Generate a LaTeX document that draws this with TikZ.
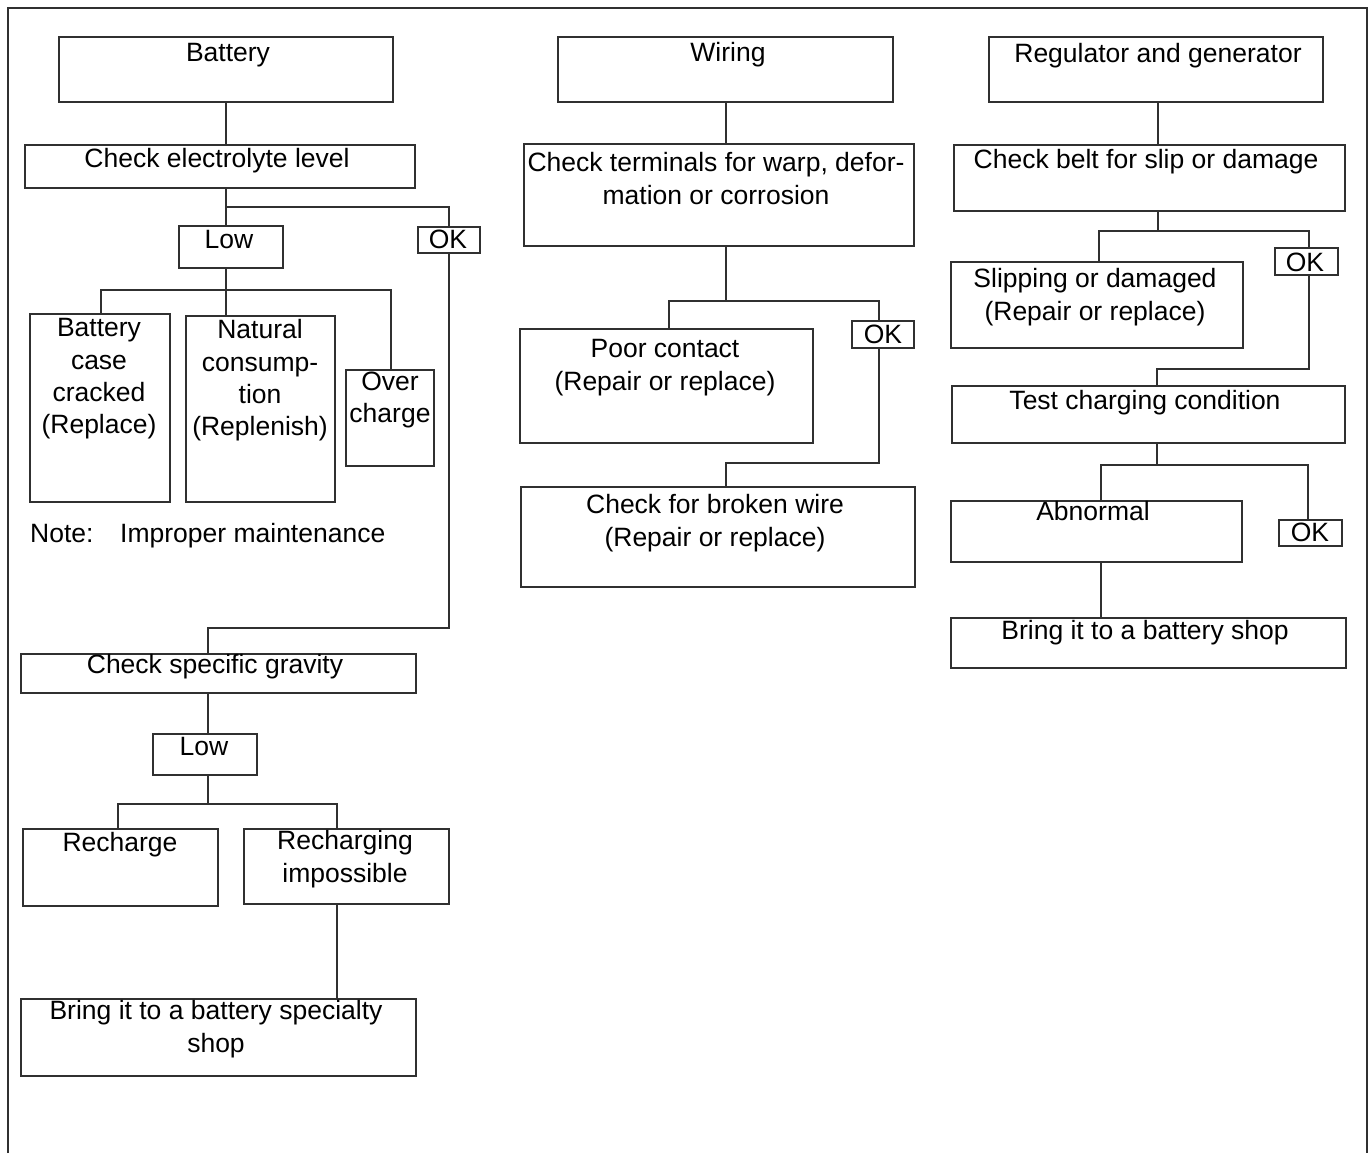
\documentclass[tikz,border=0pt]{standalone}
\usepackage{fontspec}
\setmainfont{Liberation Sans}
\definecolor{ink}{RGB}{48,48,48}
% a framed box given by its top-left and bottom-right corners
\newcommand\flowbox[5]{\node[box, minimum width={#4-#2}, minimum height={#5-#3}] (#1) at (#2,#3) {};}
\begin{document}
\begin{tikzpicture}[x=1pt,y=-1pt,
  box/.style={draw=ink, line width=1.4pt, anchor=north west, inner sep=0pt, outer sep=0pt},
  wire/.style={draw=ink, line width=1.4pt},
  txt/.style={anchor=north, inner sep=0pt, align=center, yshift=22.61pt,
              font=\fontsize{26.5}{32.3}\selectfont, execute at begin node=\strut},
  txtl/.style={anchor=base west, inner sep=0pt, font=\fontsize{26.5}{32.3}\selectfont}]
\useasboundingbox (0,0) rectangle (1372,1153);

% outer frame (open at the bottom)
\draw[wire] (8,1153) -- (8,8) -- (1367,8) -- (1367,1153);

% ---------------- Battery ----------------
\flowbox{batt}{59}{37}{393}{102}
\flowbox{chkel}{25}{145}{415}{188}
\flowbox{lowa}{179}{226}{283}{268}
\flowbox{oka}{418}{227}{480}{253}
\flowbox{case}{30}{314}{170}{502}
\flowbox{natc}{186}{316}{335}{502}
\flowbox{over}{346}{370}{434}{466}
\flowbox{sg}{21}{654}{416}{693}
\flowbox{lowb}{153}{734}{257}{775}
\flowbox{rech}{23}{829}{218}{906}
\flowbox{rimp}{244}{829}{449}{904}
\flowbox{shopa}{21}{999}{416}{1076}

\node[txt] (batt-t) at (228,61) {Battery};
\node[txt] (chkel-t) at (217,167) {Check electrolyte level};
\node[txt] (lowa-t) at (229,248) {Low};
\node[txt] (oka-t) at (448,248) {OK};
\node[txt] (case-t) at (99,341) {Battery\\case\\cracked\\(Replace)};
\node[txt] (natc-t) at (260,342) {Natural\\consump-\\tion\\(Replenish)};
\node[txt] (over-t) at (390,394) {Over\\charge};
\node[txtl] (note-a) at (30,542) {Note:};
\node[txtl] (note-b) at (120,542) {Improper maintenance};
\node[txt] (sg-t) at (215,673) {Check specific gravity};
\node[txt] (lowb-t) at (204,755) {Low};
\node[txt] (rech-t) at (120,851) {Recharge};
\node[txt] (rimp-t) at (345,853) {Recharging\\impossible};
\node[txt] (shopa-t) at (216,1023) {Bring it to a battery specialty\\shop};

\coordinate (ja) at (226,207);
\coordinate (jb) at (226,290);
\coordinate (jb1) at (101,290);
\coordinate (jb2) at (391,290);
\coordinate (jc) at (208,628);
\coordinate (jd) at (208,804);
\coordinate (jd1) at (118,804);
\coordinate (jd2) at (337,804);

\draw[wire] (batt.south -| ja) -- (ja |- chkel.north);
\draw[wire] (ja |- chkel.south) -- (ja |- lowa.north);
\draw[wire] (ja) -| (oka.north);
\draw[wire] (ja |- lowa.south) -- (jb);
\draw[wire] (jb1 |- case.north) -- (jb1) -- (jb2) -- (jb2 |- over.north);
\draw[wire] (jb) -- (jb |- natc.north);
\draw[wire] (oka.south) |- (jc) -- (jc |- sg.north);
\draw[wire] (jc |- sg.south) -- (jc |- lowb.north);
\draw[wire] (jc |- lowb.south) -- (jd);
\draw[wire] (jd1 |- rech.north) -- (jd1) -- (jd2) -- (jd2 |- rimp.north);
\draw[wire] (jd2 |- rimp.south) -- (jd2 |- shopa.north);

% ---------------- Wiring ----------------
\flowbox{wir}{558}{37}{893}{102}
\flowbox{term}{524}{144}{914}{246}
\flowbox{poor}{520}{329}{813}{443}
\flowbox{okb}{852}{321}{914}{348}
\flowbox{brk}{521}{487}{915}{587}

\node[txt] (wir-t) at (728,61) {Wiring};
\node[txt] (term-t) at (716,175) {Check terminals for warp, defor-\\mation or corrosion};
\node[txt] (poor-t) at (665,362) {Poor contact\\(Repair or replace)};
\node[txt] (okb-t) at (883,343) {OK};
\node[txt] (brk-t) at (715,517) {Check for broken wire\\(Repair or replace)};

\coordinate (je) at (726,301);
\coordinate (je1) at (669,301);
\coordinate (je2) at (879,301);
\coordinate (jf) at (879,463);
\coordinate (jf1) at (726,463);

\draw[wire] (je |- wir.south) -- (je |- term.north);
\draw[wire] (je |- term.south) -- (je);
\draw[wire] (je1 |- poor.north) -- (je1) -- (je2) -- (je2 |- okb.north);
\draw[wire] (jf |- okb.south) -- (jf) -- (jf1) -- (jf1 |- brk.north);

% ---------------- Regulator and generator ----------------
\flowbox{reg}{989}{37}{1323}{102}
\flowbox{belt}{954}{145}{1345}{211}
\flowbox{slip}{951}{262}{1243}{348}
\flowbox{okc}{1275}{248}{1338}{275}
\flowbox{test}{952}{386}{1345}{443}
\flowbox{abn}{951}{501}{1242}{562}
\flowbox{okd}{1279}{520}{1342}{546}
\flowbox{shopb}{951}{618}{1346}{668}

\node[txt] (reg-t) at (1158,62) {Regulator and generator};
\node[txt] (belt-t) at (1146,168) {Check belt for slip or damage};
\node[txt] (slip-t) at (1095,291) {Slipping or damaged\\(Repair or replace)};
\node[txt] (okc-t) at (1305,271) {OK};
\node[txt] (test-t) at (1145,409) {Test charging condition};
\node[txt] (abn-t) at (1093,520) {Abnormal};
\node[txt] (okd-t) at (1310,541) {OK};
\node[txt] (shopb-t) at (1145,639) {Bring it to a battery shop};

\coordinate (jg) at (1158,231);
\coordinate (jg1) at (1099,231);
\coordinate (jg2) at (1309,231);
\coordinate (jh) at (1309,369);
\coordinate (jh1) at (1157,369);
\coordinate (ji) at (1157,465);
\coordinate (ji1) at (1101,465);
\coordinate (ji2) at (1308,465);

\draw[wire] (jg |- reg.south) -- (jg |- belt.north);
\draw[wire] (jg |- belt.south) -- (jg);
\draw[wire] (jg1 |- slip.north) -- (jg1) -- (jg2) -- (jg2 |- okc.north);
\draw[wire] (jh |- okc.south) -- (jh) -- (jh1) -- (jh1 |- test.north);
\draw[wire] (ji |- test.south) -- (ji);
\draw[wire] (ji1 |- abn.north) -- (ji1) -- (ji2) -- (ji2 |- okd.north);
\draw[wire] (ji1 |- abn.south) -- (ji1 |- shopb.north);
\end{tikzpicture}
\end{document}
